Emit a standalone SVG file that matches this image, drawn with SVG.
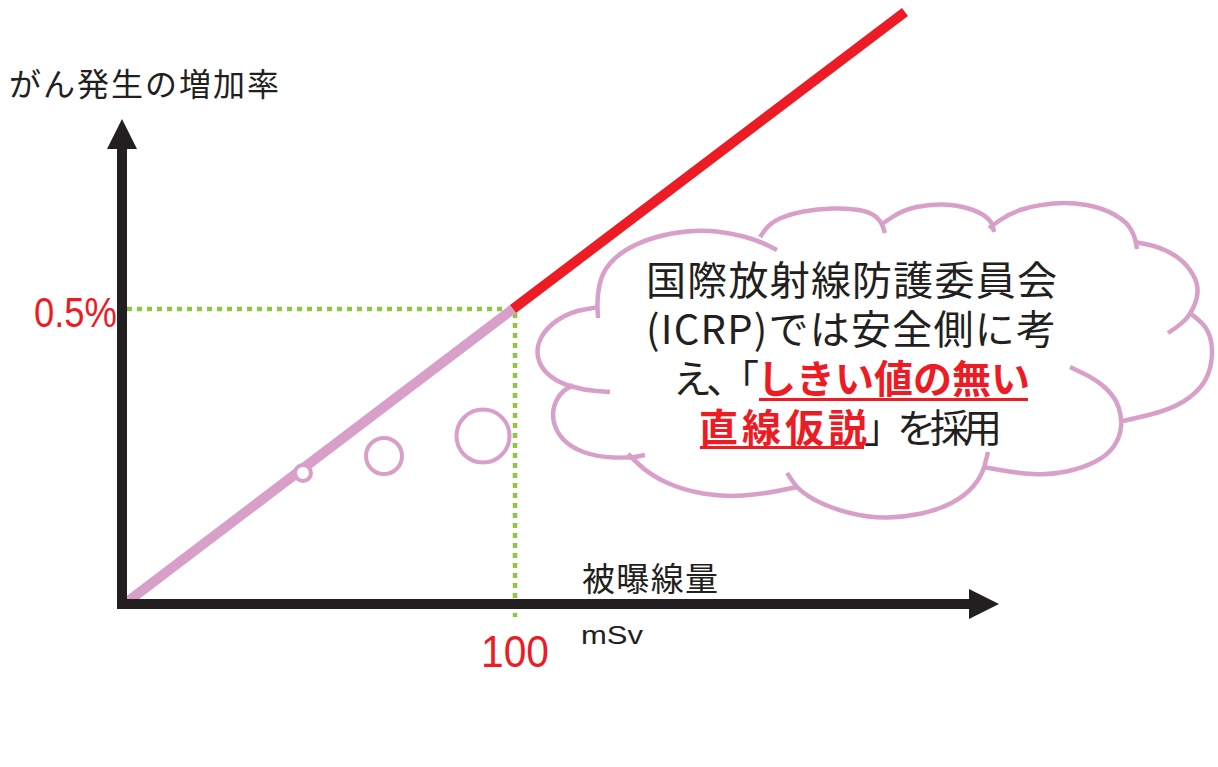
<svg xmlns="http://www.w3.org/2000/svg" width="1218" height="767" viewBox="0 0 1218 767">
<style>
.jp{font-family:"Noto Sans CJK JP","Noto Sans",sans-serif;fill:#231f20}
.num{font-family:"Liberation Sans",Arial,sans-serif;fill:#ed1c24}
.red{fill:#ed1c24;font-weight:bold}
.lobe{fill:none;stroke:#d8a0c8;stroke-width:4.5;stroke-linecap:butt}
.ring{fill:#ffffff;stroke:#d8a0c8;stroke-width:4}
.dot{fill:none;stroke:#8dc63f;stroke-width:4.5;stroke-dasharray:5 5}
.ul{stroke:#ed1c24;stroke-width:3}
</style>
<rect width="1218" height="767" fill="#ffffff"/>
<g id="guides">
<line class="dot" x1="127" y1="309" x2="506" y2="309"/>
<line class="dot" x1="515" y1="313" x2="515" y2="617"/>
</g>
<g id="connectors">
<line x1="127" y1="602" x2="513" y2="309" stroke="#d8a0c8" stroke-width="10"/>
<line x1="513" y1="309" x2="905" y2="12" stroke="#ed1c24" stroke-width="10"/>
</g>
<g id="axes">
<rect x="117" y="145" width="10" height="464" fill="#231f20"/>
<polygon points="122,119 107,149 137,149" fill="#231f20"/>
<rect x="117" y="599" width="856" height="10" fill="#231f20"/>
<polygon points="969,589 999,604 969,619" fill="#231f20"/>
</g>
<g id="y-label">
<text class="jp" x="9" y="96" font-size="32" textLength="270" lengthAdjust="spacing">がん発生の増加率</text>
</g>
<g id="x-label">
<text class="jp" x="582" y="591" font-size="33" textLength="136" lengthAdjust="spacing">被曝線量</text>
<text x="581" y="644" font-family="Liberation Sans, Arial, sans-serif" font-size="26" fill="#231f20" textLength="62" lengthAdjust="spacingAndGlyphs">mSv</text>
</g>
<g id="tick-labels">
<text class="num" x="34" y="327" font-size="43" textLength="83" lengthAdjust="spacingAndGlyphs">0.5%</text>
<text class="num" x="481" y="667" font-size="44" textLength="68" lengthAdjust="spacingAndGlyphs">100</text>
</g>
<g id="bubbles">
<circle class="ring" cx="303" cy="473" r="8"/>
<circle class="ring" cx="384" cy="456" r="18"/>
<circle class="ring" cx="483" cy="436" r="26.5"/>
</g>
<g id="cloud">
<path class="lobe" d="M598,318 L597.5,307.5 Q597,297 599.5,285 Q602,273 609.5,264 Q617,255 628.5,248.5 Q640,242 655,237.5 Q670,233 686.5,231.5 Q703,230 716.5,231.5 Q730,233 743.5,236.5 Q757,240 767,245 L777,250"/>
<path class="lobe" d="M760,237 L765,230 Q770,223 780,218.5 Q790,214 803.5,211.5 Q817,209 832.5,208.5 Q848,208 859,210 Q870,212 875.5,216.5 Q881,221 883,227 L885,233"/>
<path class="lobe" d="M882,224 L892.5,217 Q903,210 916.5,207 Q930,204 943.5,204.5 Q957,205 968.5,208.5 Q980,212 986,217 Q992,222 993,227 L994,232"/>
<path class="lobe" d="M989,228 L999.5,220.5 Q1010,213 1023.5,209 Q1037,205 1053.5,203.5 Q1070,202 1086.5,205 Q1103,208 1115,215 Q1127,222 1131,229.5 Q1135,237 1136,243 L1137,249"/>
<path class="lobe" d="M1135,242 L1147.5,244.5 Q1160,247 1171.5,253.5 Q1183,260 1190,270 Q1197,280 1197.5,288.5 Q1198,297 1194,306 Q1190,315 1185,320 Q1180,325 1174,329 L1168,333"/>
<path class="lobe" d="M1190,313 L1198.5,320 Q1207,327 1210,337 Q1213,347 1211.5,360 Q1210,373 1203.5,383 Q1197,393 1183.5,401.5 Q1170,410 1146.5,415.5 L1123,421"/>
<path class="lobe" d="M1070,367 L1083.5,373.5 Q1097,380 1106,388.5 Q1115,397 1118.5,407 Q1122,417 1121,427 Q1120,437 1114,446 Q1108,455 1095.5,461.5 Q1083,468 1066.5,471.5 Q1050,475 1033.5,474 Q1017,473 1000,470 L983,467"/>
<path class="lobe" d="M988,452 L985,464 Q982,476 973.5,486 Q965,496 951.5,503 Q938,510 921.5,513.5 Q905,517 887.5,517.5 Q870,518 850,513 Q830,508 815,500 Q800,492 793.5,482.5 L787,473"/>
<path class="lobe" d="M628,454 L639,464.5 Q650,475 666.5,482.5 Q683,490 703,493.5 Q723,497 743,495.5 Q763,494 780,490.5 L797,487"/>
<path class="lobe" d="M573,385 L566.5,389 Q560,393 556,401.5 Q552,410 553.5,420 Q555,430 562.5,438.5 Q570,447 583.5,452 Q597,457 613.5,457.5 Q630,458 637.5,456.5 L645,455"/>
<path class="lobe" d="M599,307 L584.5,309.5 Q570,312 558.5,319.5 Q547,327 541.5,337 Q536,347 538,357 Q540,367 548.5,374.5 Q557,382 570,386 Q583,390 596.5,391 L610,392"/>
</g>
<g id="cloud-text">
<text class="jp" x="646" y="295" font-size="40" textLength="411" lengthAdjust="spacing">国際放射線防護委員会</text>
<text class="jp" x="646" y="344" font-size="40" textLength="410" lengthAdjust="spacing">(ICRP)では安全側に考</text>
<text class="jp" x="673" y="393" font-size="39" textLength="86" lengthAdjust="spacing">え、「</text>
<text class="jp red" x="757" y="393" font-size="39" textLength="273" lengthAdjust="spacing">しきい値の無い</text>
<line class="ul" x1="759" y1="399.5" x2="1028" y2="399.5"/>
<text class="jp red" x="699" y="442" font-size="39" textLength="168" lengthAdjust="spacing">直線仮説</text>
<text class="jp" x="864" y="442" font-size="39" textLength="138" lengthAdjust="spacing">」を採用</text>
<line class="ul" x1="700" y1="447.5" x2="864" y2="447.5"/>
</g>
</svg>
